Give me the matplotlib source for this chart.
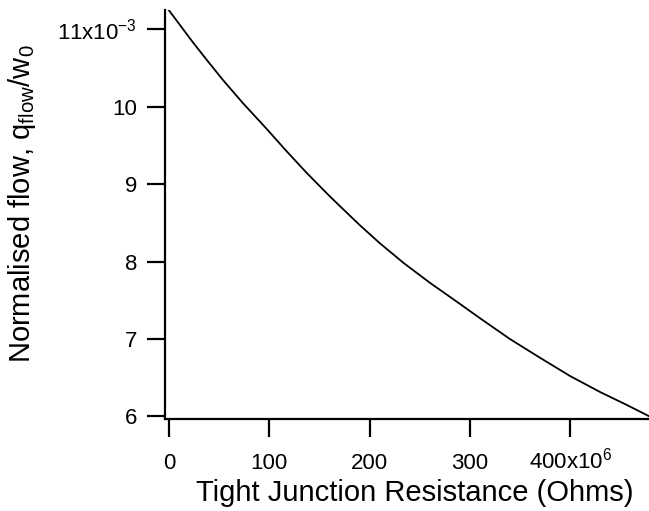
import numpy as np
import matplotlib.pyplot as plt

plt.rcParams['font.family'] = ['Liberation Sans', 'DejaVu Sans']
plt.rcParams['mathtext.fontset'] = 'custom'
plt.rcParams['mathtext.rm'] = 'Liberation Sans'
plt.rcParams['mathtext.it'] = 'Liberation Sans'

# values (x in 1e6 Ohms, y in 1e-3)
resistance = [0, 24, 38, 54, 74, 97, 117, 137, 159, 171, 190, 210, 234, 260,
              290, 310, 340, 370, 400, 430, 456, 478.6]
flow = [11.245, 10.830, 10.600, 10.343, 10.043, 9.720, 9.430, 9.150, 8.861, 8.710,
        8.474, 8.240, 7.982, 7.728, 7.455, 7.270, 7.000, 6.758, 6.522, 6.315, 6.152, 6.004]

xticks = [0, 100, 200, 300, 400]
xlabels = ['0', '100', '200', '300', r'400x10$^{6}$']
yticks = [6, 7, 8, 9, 10, 11]
ylabels = ['6', '7', '8', '9', '10', r'11x10$^{-3}$']

fig = plt.figure(figsize=(6.49, 5.11), dpi=100)
ax = fig.add_axes([0.254, 0.181, 0.746, 0.799])

ax.plot(resistance, flow, color='black', lw=1.3)

ax.set_xlim(-4, 478.6)
ax.set_ylim(5.974, 11.245)

ax.spines['top'].set_visible(False)
ax.spines['right'].set_visible(False)
ax.spines['left'].set_linewidth(1.6)
ax.spines['bottom'].set_linewidth(1.6)

ax.set_xticks(xticks)
ax.set_xticklabels(xlabels)
ax.set_yticks(yticks)
ax.set_yticklabels(ylabels)
ax.tick_params(axis='both', direction='out', length=13, width=1.6, labelsize=16)
ax.tick_params(axis='x', pad=23)
ax.tick_params(axis='y', pad=7)
plt.setp(ax.get_xticklabels(), va='baseline')

ax.set_xlabel('Tight Junction Resistance (Ohms)', fontsize=21)
ax.set_ylabel(r'Normalised flow, q$_{\mathrm{flow}}$/w$_{\mathrm{0}}$', fontsize=21)
ax.xaxis.set_label_coords(0.517, -0.147)
ax.yaxis.set_label_coords(-0.262, 0.527)

fig.savefig('out.png', dpi=100)
